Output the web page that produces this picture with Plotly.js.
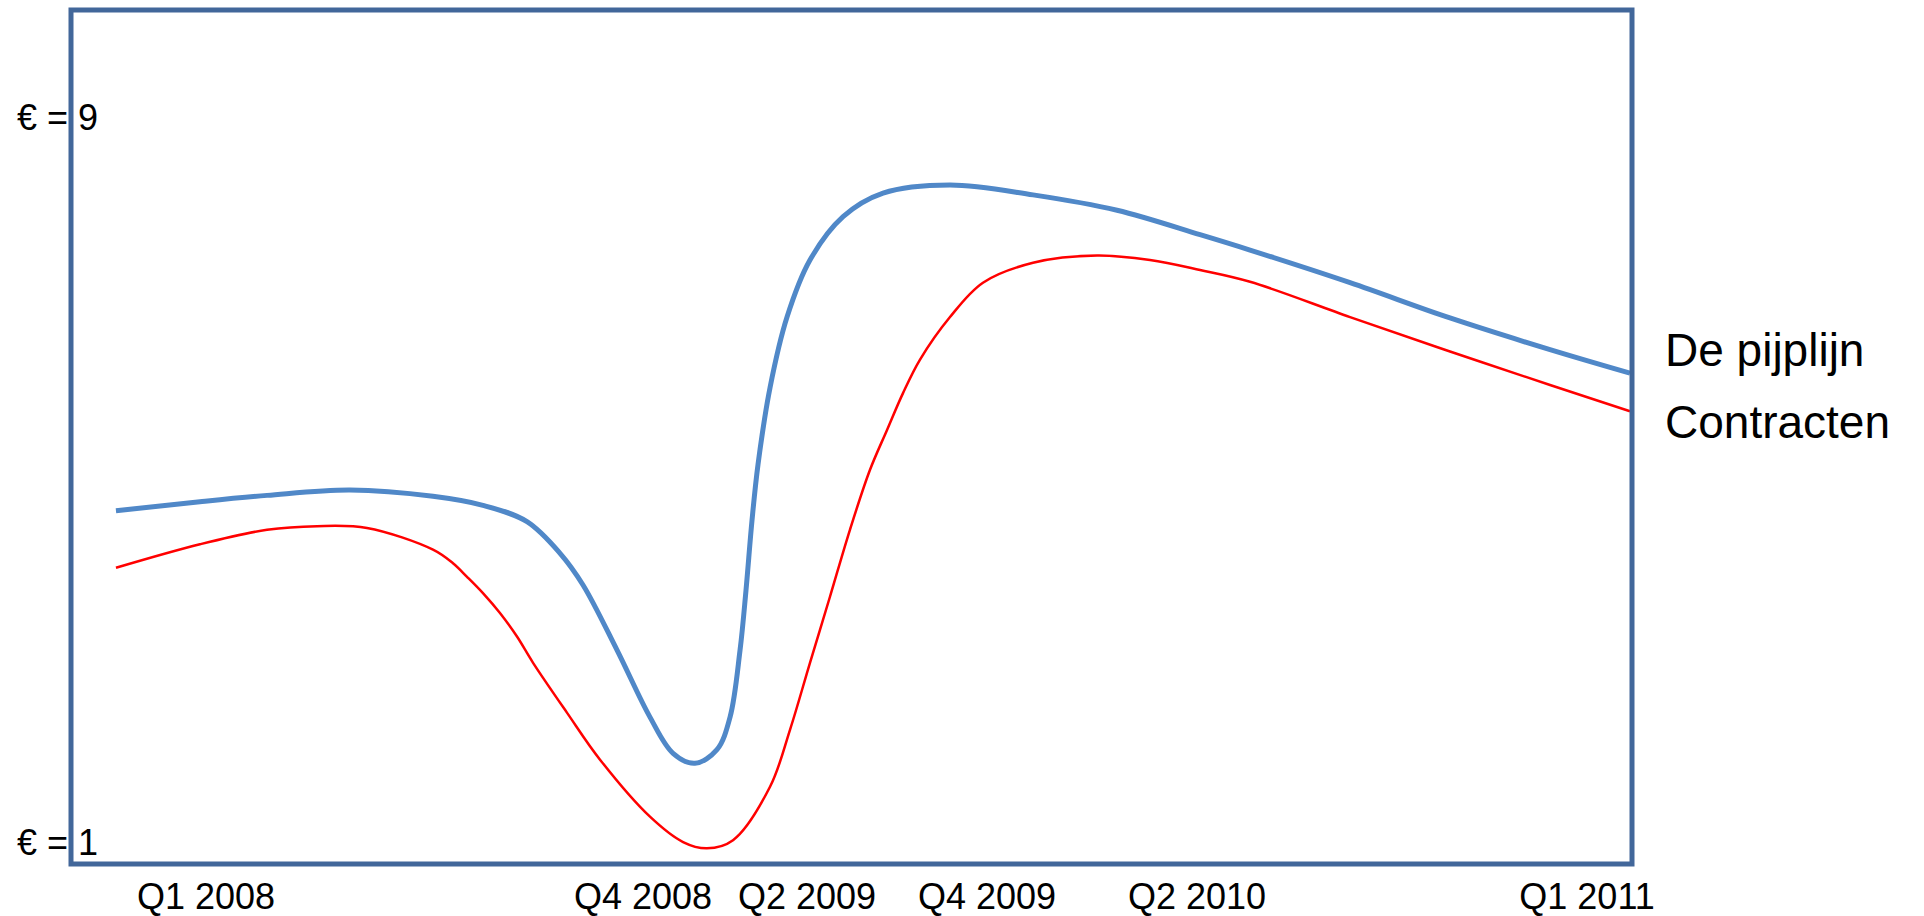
<!DOCTYPE html>
<html>
<head>
<meta charset="utf-8">
<script src="https://cdn.plot.ly/plotly-3.0.1.min.js"></script>
<style>
html,body{margin:0;padding:0;background:#fff;}
#chart{width:1924px;height:916px;}
</style>
</head>
<body>
<div id="chart"></div>
<script>
// Horizontal position (0-100 along the time axis)
var pipelineX = [2.88, 8.26, 12.56, 17.87, 23.19, 26.39, 29.21, 31.33, 32.80, 34.98, 37.09, 38.57, 39.97, 41.38, 42.22, 42.86, 43.24, 43.63, 44.01, 44.78, 45.87, 47.34, 49.46, 52.02, 56.31, 61.63, 67.01, 72.33, 75.53, 81.94, 88.34, 94.75, 99.87];
var pipelineY = [4.66, 4.76, 4.83, 4.89, 4.82, 4.72, 4.54, 4.19, 3.84, 3.12, 2.38, 1.98, 1.87, 2.02, 2.38, 3.12, 3.78, 4.56, 5.17, 6.02, 6.80, 7.43, 7.91, 8.17, 8.26, 8.15, 7.98, 7.71, 7.54, 7.18, 6.79, 6.44, 6.18];

var contractX = [2.88, 8.26, 12.56, 15.76, 18.96, 23.19, 24.47, 25.37, 26.39, 27.48, 28.57, 29.60, 31.77, 33.89, 37.09, 39.21, 40.74, 42.41, 44.78, 46.06, 47.34, 48.62, 49.90, 51.18, 52.27, 53.30, 54.39, 56.31, 58.42, 61.63, 65.73, 69.12, 72.33, 75.53, 81.94, 88.34, 94.75, 99.87];
var contractY = [4.03, 4.29, 4.45, 4.49, 4.47, 4.23, 4.08, 3.93, 3.75, 3.53, 3.27, 2.98, 2.43, 1.91, 1.28, 1.00, 0.93, 1.02, 1.61, 2.24, 2.98, 3.71, 4.45, 5.11, 5.55, 5.96, 6.33, 6.80, 7.18, 7.40, 7.48, 7.43, 7.32, 7.19, 6.80, 6.42, 6.05, 5.76];

var seriesNames = ["De pijplijn", "Contracten"];
var seriesLabelY = [6.44, 5.64];

var xTickVals = [8.65, 36.64, 47.15, 58.68, 72.13, 97.12];
var xTickText = ["Q1 2008", "Q4 2008", "Q2 2009", "Q4 2009", "Q2 2010", "Q1 2011"];

var yLabelVals = [9, 1];
var yLabelText = ["€ = 9", "€ = 1"];

var FONT = "Liberation Sans, Arial, Helvetica, sans-serif";

var traces = [
  {x: pipelineX, y: pipelineY, name: seriesNames[0], type: "scatter", mode: "lines",
   line: {color: "#5088c8", width: 5, shape: "spline", smoothing: 1, simplify: false}},
  {x: contractX, y: contractY, name: seriesNames[1], type: "scatter", mode: "lines",
   line: {color: "#ff0000", width: 2.5, shape: "spline", smoothing: 1, simplify: false}}
];

var annotations = [];
yLabelVals.forEach(function(v, i){
  annotations.push({x: -0.0359, xref: "paper", y: v, yref: "y", text: yLabelText[i],
    showarrow: false, xanchor: "left", yanchor: "middle",
    font: {family: FONT, size: 36, color: "#000"}});
});
seriesNames.forEach(function(n, i){
  annotations.push({x: 1.0199, xref: "paper", y: seriesLabelY[i], yref: "y", text: n,
    showarrow: false, xanchor: "left", yanchor: "middle",
    font: {family: FONT, size: 46, color: "#000"}});
});

var layout = {
  width: 1924, height: 916,
  margin: {l: 71, r: 292, t: 10, b: 52, pad: 0},
  paper_bgcolor: "#ffffff", plot_bgcolor: "#ffffff",
  showlegend: false,
  font: {family: FONT, color: "#000"},
  xaxis: {range: [0, 100], tickvals: xTickVals, ticktext: xTickText,
    showgrid: false, zeroline: false, showline: false, ticks: "",
    ticklabelstandoff: 8,
    tickfont: {family: FONT, size: 36, color: "#000"}},
  yaxis: {range: [0.757, 10.193], showgrid: false, zeroline: false, showline: false,
    showticklabels: false, ticks: ""},
  shapes: [{type: "rect", xref: "paper", yref: "paper", x0: 0, x1: 1, y0: 0, y1: 1,
    line: {color: "#42679a", width: 5}, layer: "above"}],
  annotations: annotations
};

Plotly.newPlot("chart", traces, layout, {displayModeBar: false, staticPlot: true});
</script>
</body>
</html>
